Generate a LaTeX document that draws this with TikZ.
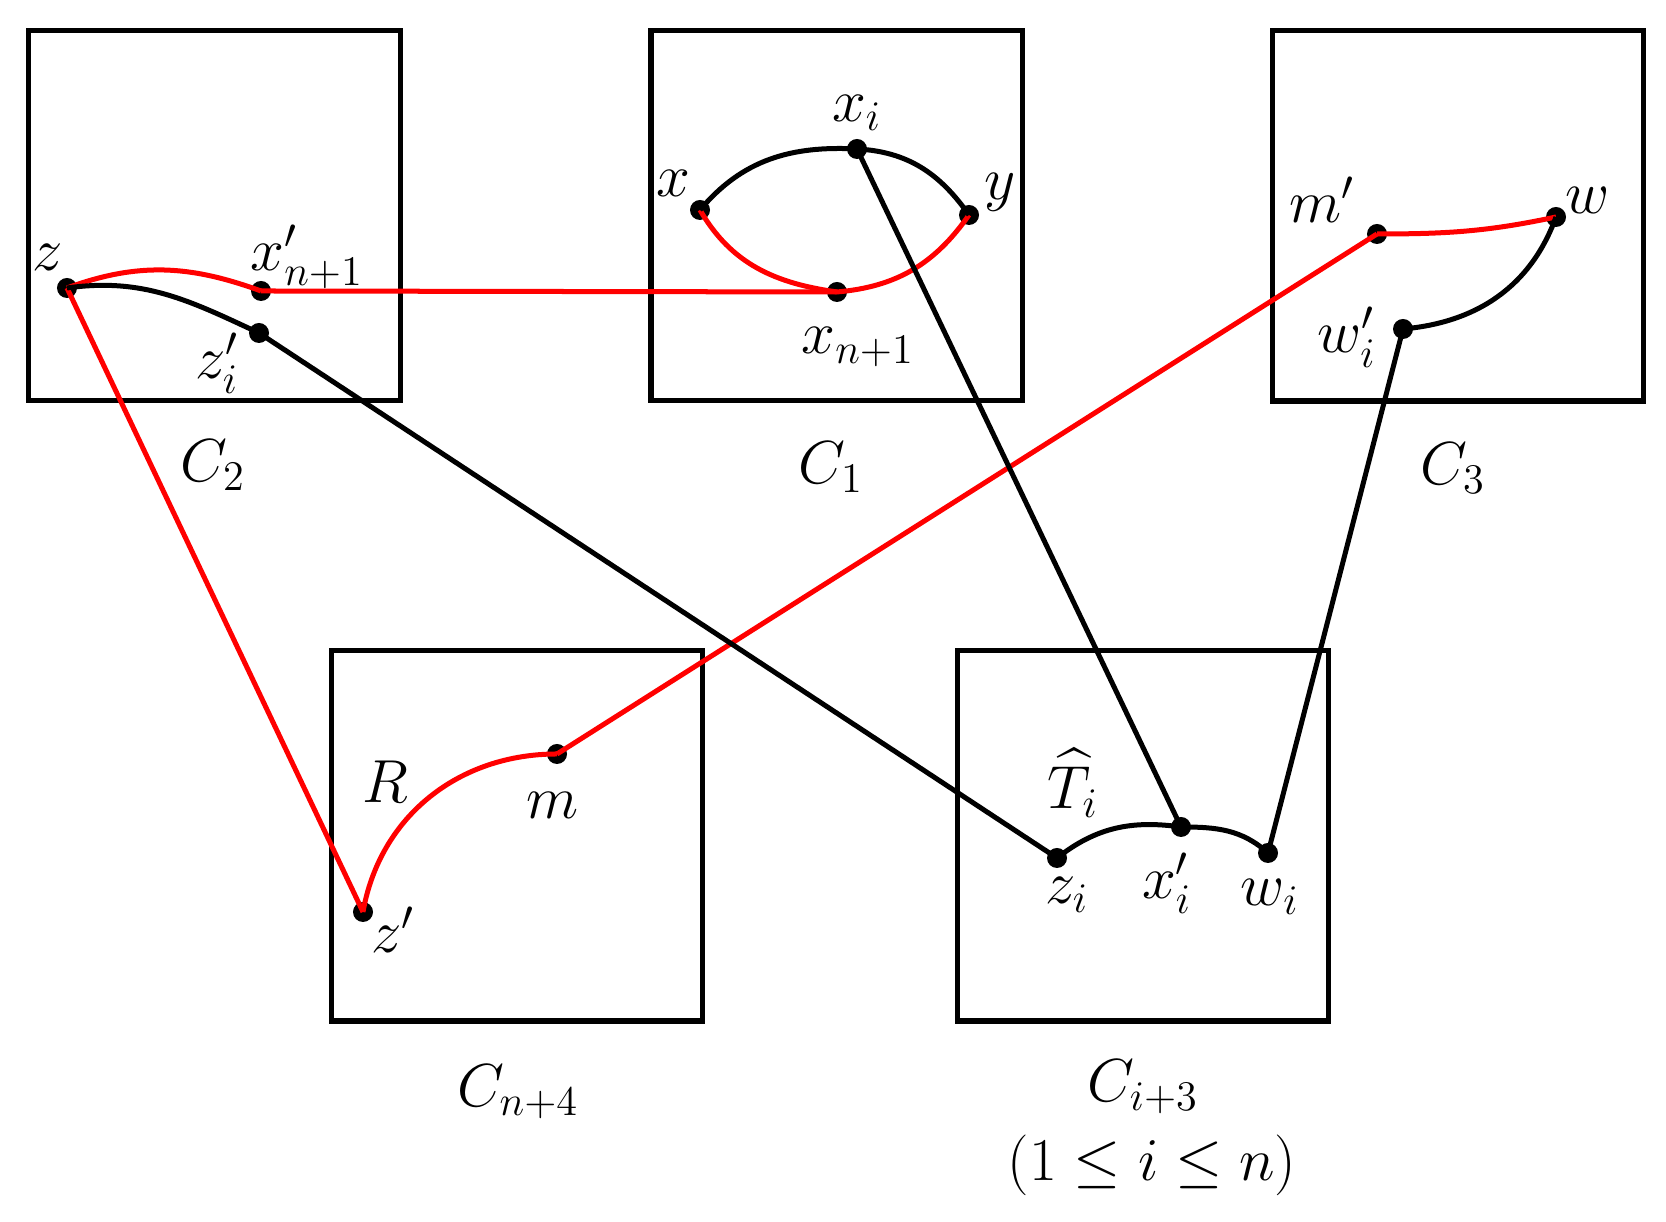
\documentclass[tikz,border=0pt]{standalone}
\usepackage{amsmath}
\begin{document}
\begin{tikzpicture}[x=0.01cm,y=0.01cm,
  box/.style={draw, line width=0.052cm, inner sep=0, minimum width=3.71cm, minimum height=3.70cm},
  pt/.style={circle, fill=black, inner sep=0, minimum size=0.2cm},
  lbl/.style={font=\LARGE, inner sep=0},
  bl/.style={line width=0.05cm, black},
  rd/.style={line width=0.05cm, red}]
\useasboundingbox (0,0) rectangle (1666,1222);
% boxes
\node[box] (B2) at (214.5,1006.5) {};
\node[box] (B1) at (836.5,1006.5) {};
\node[box] (B3) at (1458,1006) {};
\node[box] (Bn4) at (517,386) {};
\node[box] (Bi3) at (1143,386) {};
% points
\node[pt] (z) at (67,934) {};
\node[pt] (xp) at (261,931) {};
\node[pt] (zpi) at (259,889) {};
\node[pt] (x) at (700,1012) {};
\node[pt] (xi) at (857,1073) {};
\node[pt] (y) at (969,1007) {};
\node[pt] (xn1) at (837,930) {};
\node[pt] (mp) at (1377,988) {};
\node[pt] (w) at (1556,1005) {};
\node[pt] (wpi) at (1403,893) {};
\node[pt] (zp) at (363,310) {};
\node[pt] (m) at (557,468) {};
\node[pt] (zi) at (1057,364) {};
\node[pt] (xpi) at (1181,395) {};
\node[pt] (wi) at (1268,369) {};
% red edges
\draw[rd] (z.center) to[out=20,in=160] (xp.center);
\draw[rd] (xp.center) -- (xn1.center);
\draw[rd] (x.center) to[out=-60,in=172] (xn1.center);
\draw[rd] (xn1.center) to[out=5,in=-125] (y.center);
\draw[rd] (mp.center) to[out=0,in=-168] (w.center);
\draw[rd] (zp.center) to[out=80,in=180] (m.center);
\draw[rd] (z.center) -- (zp.center);
\draw[rd] (m.center) -- (mp.center);
% black edges
\draw[bl] (z.center) to[out=8,in=155] (zpi.center);
\draw[bl] (x.center) to[out=50,in=177] (xi.center);
\draw[bl] (xi.center) to[out=-3,in=125] (y.center);
\draw[bl] (wpi.center) to[out=5,in=-110] (w.center);
\draw[bl] (zi.center) to[out=38,in=172] (xpi.center);
\draw[bl] (xpi.center) to[out=0,in=138] (wi.center);
\draw[bl] (zpi.center) -- (zi.center);
\draw[bl] (xi.center) -- (xpi.center);
\draw[bl] (wpi.center) -- (wi.center);
% labels
\node[lbl] (lz) at (48,965) {$z$};
\node[lbl] (lxp) at (307,965) {$x'_{n+1}$};
\node[lbl] (lzpi) at (217,859) {$z'_i$};
\node[lbl] (lC2) at (213,757) {$C_2$};
\node[lbl] (lx) at (673,1039) {$x$};
\node[lbl] (lxi) at (857,1109) {$x_i$};
\node[lbl] (ly) at (1000,1030) {$y$};
\node[lbl] (lxn1) at (858,875) {$x_{n+1}$};
\node[lbl] (lC1) at (831,755) {$C_1$};
\node[lbl] (lmp) at (1322,1022) {$m'$};
\node[lbl] (lw) at (1588,1022) {$w$};
\node[lbl] (lwpi) at (1347,885) {$w'_i$};
\node[lbl] (lC3) at (1453,754) {$C_3$};
\node[lbl] (lR) at (385,440) {$R$};
\node[lbl] (lm) at (553,417) {$m$};
\node[lbl] (lzp) at (393,292) {$z'$};
\node[lbl] (lCn4) at (518,130) {$C_{n+4}$};
\node[lbl] (lT) at (1073,439) {$\widehat{T}_i$};
\node[lbl] (lzi) at (1067,327) {$z_i$};
\node[lbl] (lxpi) at (1167,339) {$x'_i$};
\node[lbl] (lwi) at (1270,325) {$w_i$};
\node[lbl] (lCi3) at (1143,135) {$C_{i+3}$};
\node[lbl] (lrange) at (1152,57) {$(1\leq i\leq n)$};
\end{tikzpicture}
\end{document}
